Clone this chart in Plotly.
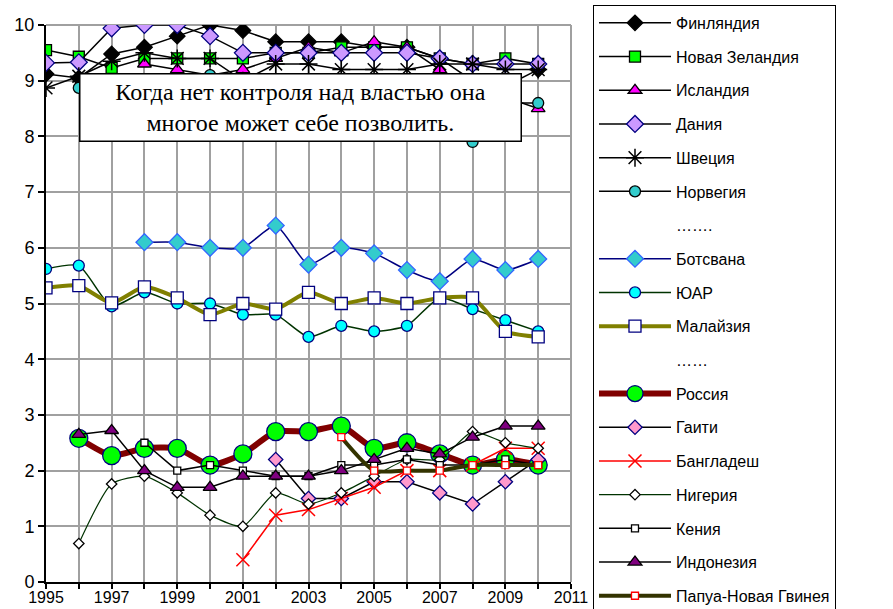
import plotly.graph_objects as go

# Corruption perception index by country, 1995-2010
years = list(range(1995, 2011))

finland = [9.12, 9.05, 9.48, 9.6, 9.8, 10.0, 9.9, 9.7, 9.7, 9.7, 9.6, 9.6, 9.4, 9.0, 8.9, 9.2]
new_zealand = [9.55, 9.43, 9.23, 9.4, 9.4, 9.4, 9.4, 9.5, 9.5, 9.6, 9.6, 9.6, 9.4, 9.3, 9.4, 9.3]
iceland = [None, None, None, 9.3, 9.2, 9.1, 9.2, 9.4, 9.6, 9.5, 9.7, 9.6, 9.2, 8.9, 8.7, 8.5]
denmark = [9.32, 9.33, 9.94, 10.0, 10.0, 9.8, 9.5, 9.5, 9.5, 9.5, 9.5, 9.5, 9.4, 9.3, 9.3, 9.3]
sweden = [8.87, 9.08, 9.35, 9.5, 9.4, 9.4, 9.0, 9.3, 9.3, 9.2, 9.2, 9.2, 9.3, 9.3, 9.2, 9.2]
norway = [None, 8.87, 8.92, 9.0, 8.9, 9.1, 8.6, 8.5, 8.8, 8.9, 8.9, 8.8, 8.7, 7.9, 8.6, 8.6]
botswana = [None, None, None, 6.1, 6.1, 6.0, 6.0, 6.4, 5.7, 6.0, 5.9, 5.6, 5.4, 5.8, 5.6, 5.8]
south_africa = [5.62, 5.68, 4.95, 5.2, 5.0, 5.0, 4.8, 4.8, 4.4, 4.6, 4.5, 4.6, 5.1, 4.9, 4.7, 4.5]
malaysia = [5.28, 5.32, 5.01, 5.3, 5.1, 4.8, 5.0, 4.9, 5.2, 5.0, 5.1, 5.0, 5.1, 5.1, 4.5, 4.4]
russia = [None, 2.58, 2.27, 2.4, 2.4, 2.1, 2.3, 2.7, 2.7, 2.8, 2.4, 2.5, 2.3, 2.1, 2.2, 2.1]
haiti = [None, None, None, None, None, None, None, 2.2, 1.5, 1.5, 1.8, 1.8, 1.6, 1.4, 1.8, 2.2]
bangladesh = [None, None, None, None, None, None, 0.4, 1.2, 1.3, 1.5, 1.7, 2.0, 2.0, 2.1, 2.4, 2.4]
nigeria = [None, 0.69, 1.76, 1.9, 1.6, 1.2, 1.0, 1.6, 1.4, 1.6, 1.9, 2.2, 2.2, 2.7, 2.5, 2.4]
kenya = [None, None, None, 2.5, 2.0, 2.1, 2.0, 1.9, 1.9, 2.1, 2.1, 2.2, 2.1, 2.1, 2.2, 2.1]
indonesia = [None, 2.65, 2.72, 2.0, 1.7, 1.7, 1.9, 1.9, 1.9, 2.0, 2.2, 2.4, 2.3, 2.6, 2.8, 2.8]
papua = [None, None, None, None, None, None, None, None, None, 2.6, 2.0, 2.0, 2.0, 2.1, 2.1, 2.1]

x_tick_labels = [1995, 1997, 1999, 2001, 2003, 2005, 2007, 2009, 2011]

NAVY = "#000080"

# name, values, line colour, line width, smoothed, symbol, size, fill, edge
series = [
    ("Финляндия", finland, "black", 1.5, False, "diamond", 12, "black", "black"),
    ("Новая Зеландия", new_zealand, "black", 1.5, False, "square", 11, "#00FF00", "black"),
    ("Исландия", iceland, "black", 1.5, False, "triangle-up", 12, "#FF00FF", "black"),
    ("Дания", denmark, "black", 1.5, False, "diamond", 13, "#CC99FF", NAVY),
    ("Швеция", sweden, "black", 1.5, False, "asterisk-open", 15, "black", "black"),
    ("Норвегия", norway, "black", 1.5, False, "circle", 11, "#33CCCC", "black"),
    ("…….", None, None, 0, False, None, 0, None, None),
    ("Ботсвана", botswana, NAVY, 1.5, True, "diamond", 13, "#33CCCC", "#3366FF"),
    ("ЮАР", south_africa, "#003300", 1.5, True, "circle", 11, "#00FFFF", NAVY),
    ("Малайзия", malaysia, "#808000", 4, True, "square", 12, "white", NAVY),
    ("……", None, None, 0, False, None, 0, None, None),
    ("Россия", russia, "#800000", 6, True, "circle", 18, "#00FF00", NAVY),
    ("Гаити", haiti, "black", 1.5, False, "diamond", 11, "#FF99CC", NAVY),
    ("Бангладеш", bangladesh, "#FF0000", 1.5, False, "x-thin-open", 13, "#FF0000", "#FF0000"),
    ("Нигерия", nigeria, "#003300", 1.2, True, "diamond", 8, "white", "black"),
    ("Кения", kenya, "black", 1.5, False, "square", 7, "white", "black"),
    ("Индонезия", indonesia, "black", 1.5, False, "triangle-up", 12, "#800080", "black"),
    ("Папуа-Новая Гвинея", papua, "#333300", 4, True, "square", 7, "white", "#FF0000"),
]

fig = go.Figure()

for i, (name, vals, lc, lw, smooth, sym, size, fill, edge) in enumerate(series):
    if vals is None:
        fig.add_trace(go.Scatter(
            x=[None], y=[None], mode="lines", name=name,
            line=dict(width=0, color="rgba(0,0,0,0)"),
            legendgroup=f"g{i}", hoverinfo="skip",
        ))
        continue
    open_sym = sym.endswith("open")
    fig.add_trace(go.Scatter(
        x=years, y=vals, mode="lines+markers", name=name,
        legendgroup=f"g{i}",
        line=dict(color=lc, width=lw, shape="spline" if smooth else "linear", smoothing=0.6),
        marker=dict(
            symbol=sym, size=size, color=fill,
            line=dict(color=edge, width=1.5 if open_sym else 1.3),
        ),
        connectgaps=False,
    ))

fig.add_annotation(
    xref="paper", yref="paper", x=0.4857, y=0.852,
    xanchor="center", yanchor="middle",
    text="Когда нет контроля над властью она<br>многое может себе позволить.",
    showarrow=False, align="center",
    font=dict(family="Liberation Serif", size=24, color="black"),
    bgcolor="white", bordercolor="black", borderwidth=1.5, borderpad=2,
    width=436, height=62,
)

GRID = "#A0A0A0"

fig.update_layout(
    width=893, height=609,
    margin=dict(l=46, r=322, t=25, b=27, autoexpand=False),
    paper_bgcolor="white", plot_bgcolor="white",
    font=dict(family="Liberation Sans", color="black"),
    showlegend=True,
    legend=dict(
        x=1.0419, y=1.036, xanchor="left", yanchor="top",
        bgcolor="white", bordercolor="black", borderwidth=1,
        font=dict(family="Liberation Sans", size=16, color="black"),
        traceorder="grouped", tracegroupgap=9.9, itemwidth=72,
        itemsizing="trace", maxheight=900,
    ),
    xaxis=dict(
        range=[1995, 2011], tickmode="array", tickvals=x_tick_labels,
        ticktext=[str(v) for v in x_tick_labels],
        showgrid=True, gridcolor=GRID, gridwidth=2,
        minor=dict(dtick=1, tick0=1995, showgrid=True, gridcolor=GRID, gridwidth=2,
                   ticks="outside", ticklen=5, tickwidth=2, tickcolor="black"),
        ticks="outside", ticklen=5, tickwidth=2, tickcolor="black",
        showline=True, linecolor="black", linewidth=2,
        tickfont=dict(size=16, family="Liberation Sans"),
        ticklabelstandoff=-5, zeroline=False, automargin=False,
    ),
    yaxis=dict(
        range=[0, 10], dtick=1, tick0=0,
        showgrid=True, gridcolor=GRID, gridwidth=2,
        ticks="outside", ticklen=6, tickwidth=2, tickcolor="black",
        showline=True, linecolor="black", linewidth=2,
        tickfont=dict(size=18, family="Liberation Sans"),
        zeroline=False, automargin=False,
    ),
)

# right and top plot-area edges in grey
fig.add_shape(type="line", xref="paper", yref="paper", x0=1, x1=1, y0=0, y1=1,
              line=dict(color=GRID, width=2), layer="below")
fig.add_shape(type="line", xref="paper", yref="paper", x0=0, x1=1, y0=1, y1=1,
              line=dict(color=GRID, width=2), layer="below")

fig.write_html("out.html")
